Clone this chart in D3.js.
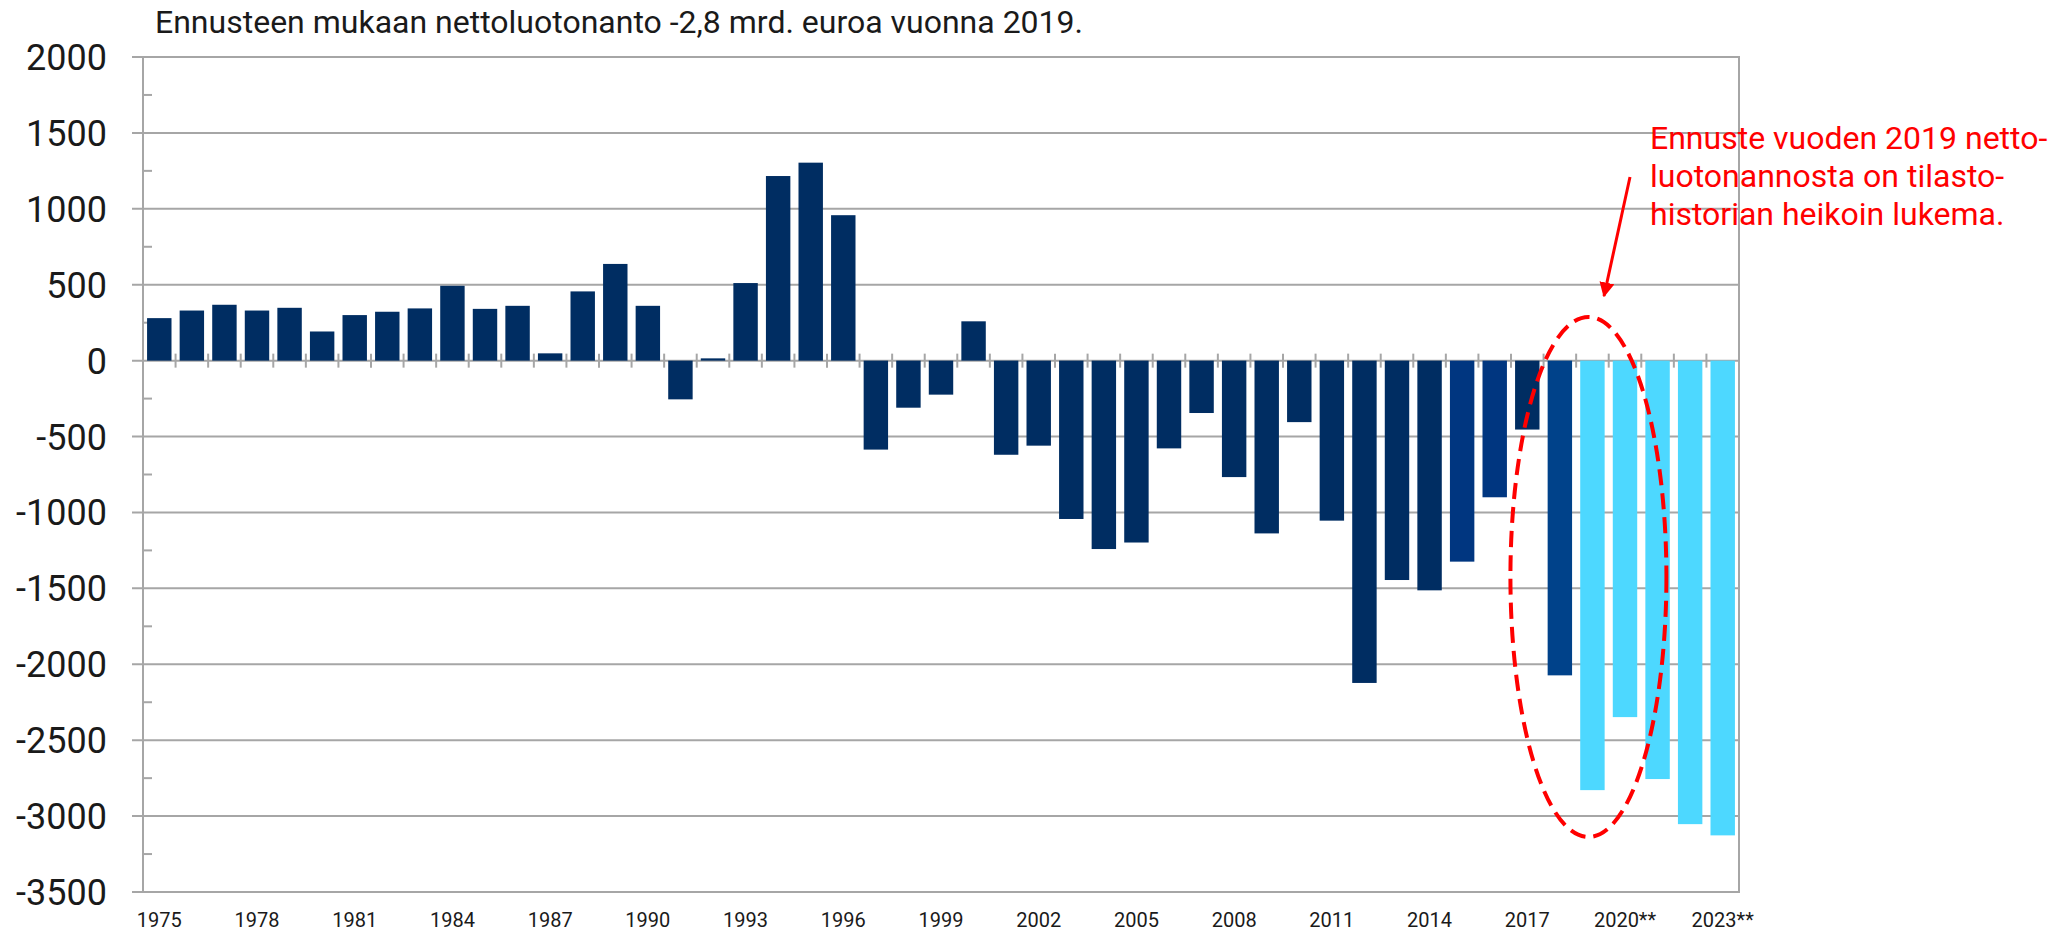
<!DOCTYPE html>
<html>
<head>
<meta charset="utf-8">
<script src="https://cdn.jsdelivr.net/npm/d3@7"></script>
<style>
  body { margin: 0; background: white; }
  svg { display: block; font-family: Roboto, "Noto Sans", sans-serif; }
</style>
</head>
<body>
<svg id="chart" width="2054" height="934"></svg>
<script>
// Vuodet ja nettoluotonanto (milj. euroa), luettu kuvasta.
const years = d3.range(1975, 2024);
const values = [
  280, 330, 368, 330, 348, 192, 300, 322, 344, 493,
  341, 361, 48, 456, 637, 361, -255, 15, 511, 1216,
  1304, 958, -586, -310, -224, 259, -620, -560, -1043, -1241,
  -1198, -578, -345, -767, -1138, -405, -1054, -2123, -1445, -1513,
  -1324, -900, -454, -2073, -2829, -2348, -2756, -3053, -3127
];
// Forecast years get the "**" suffix on the axis.
const forecastYears = [2019, 2020, 2021, 2022, 2023];
const brightYears = [2015, 2016];
const yTicks = d3.range(-3500, 2001, 500);
const titleText = "Ennusteen mukaan nettoluotonanto -2,8 mrd. euroa vuonna 2019.";
const noteLines = ["Ennuste vuoden 2019 netto-", "luotonannosta on tilasto-", "historian heikoin lukema."];

const data = years.map((y, i) => ({year: y, value: values[i]}));

const svg = d3.select("#chart");
const margin = {left: 143, right: 315, top: 57, bottom: 42};
const W = 2054, H = 934;

const x = d3.scaleBand()
  .domain(years)
  .range([margin.left, W - margin.right])
  .paddingInner(0.25)
  .paddingOuter(0.125);

const y = d3.scaleLinear()
  .domain([-3500, 2000])
  .range([H - margin.bottom, margin.top]);

const gridColor = "#a6a6a6";

// Gridlines
svg.append("g")
  .selectAll("line")
  .data(yTicks)
  .join("line")
    .attr("x1", margin.left - 11)
    .attr("x2", W - margin.right)
    .attr("y1", d => y(d))
    .attr("y2", d => y(d))
    .attr("stroke", gridColor)
    .attr("stroke-width", 2);

// minor ticks inside the left axis
svg.append("g")
  .selectAll("line")
  .data(d3.range(-3250, 2000, 500))
  .join("line")
    .attr("x1", margin.left)
    .attr("x2", margin.left + 9)
    .attr("y1", d => y(d))
    .attr("y2", d => y(d))
    .attr("stroke", gridColor)
    .attr("stroke-width", 2);

// Bars
function barColor(d){
  if(forecastYears.includes(d.year)) return "#4dd8ff";
  if(d.year == 2018) return "#00428a";
  if(brightYears.includes(d.year)) return "#003680";
  return "#002d62";
}

svg.append("g")
  .selectAll("rect")
  .data(data)
  .join("rect")
    .attr("x", d => x(d.year))
    .attr("width", x.bandwidth())
    .attr("y", d => y(Math.max(0, d.value)))
    .attr("height", d => Math.abs(y(d.value) - y(0)))
    .attr("fill", barColor);

// Category ticks on the zero line
const step = x.step();
svg.append("g")
  .selectAll("line")
  .data(years.slice(1))
  .join("line")
    .attr("x1", d => x(d) - step * x.paddingInner() / 2)
    .attr("x2", d => x(d) - step * x.paddingInner() / 2)
    .attr("y1", y(0) - 7)
    .attr("y2", y(0) + 7)
    .attr("stroke", gridColor)
    .attr("stroke-width", 2);

// Frame
svg.append("rect")
  .attr("x", margin.left)
  .attr("y", margin.top)
  .attr("width", W - margin.right - margin.left)
  .attr("height", H - margin.bottom - margin.top)
  .attr("fill", "none")
  .attr("stroke", gridColor)
  .attr("stroke-width", 2);

// Y labels
svg.append("g")
  .selectAll("text")
  .data(yTicks)
  .join("text")
    .attr("x", 107)
    .attr("y", d => y(d))
    .attr("dy", "0.36em")
    .attr("text-anchor", "end")
    .attr("font-size", 36)
    .attr("fill", "#1a1a1a")
    .text(d => d);

// X labels, every third year
svg.append("g")
  .selectAll("text")
  .data(years.filter((d, i) => i % 3 == 0))
  .join("text")
    .attr("x", d => x(d) + x.bandwidth() / 2)
    .attr("y", 927)
    .attr("text-anchor", "middle")
    .attr("font-size", 20)
    .attr("fill", "#1a1a1a")
    .text(d => forecastYears.includes(d) && d >= 2020 ? d + "**" : d);

// Title
svg.append("text")
  .attr("x", 155)
  .attr("y", 33)
  .attr("font-size", 32)
  .attr("fill", "#1a1a1a")
  .text(titleText);

// Annotation: dashed ellipse around the forecast
const cx = x(2019) + x.bandwidth() / 2 - 4;
svg.append("ellipse")
  .attr("cx", cx)
  .attr("cy", 577)
  .attr("rx", 78)
  .attr("ry", 260)
  .attr("fill", "none")
  .attr("stroke", "#ff0000")
  .attr("stroke-width", 4)
  .attr("stroke-dasharray", "16 8");

// arrow
svg.append("defs").append("marker")
  .attr("id", "head")
  .attr("viewBox", "0 0 10 10")
  .attr("refX", 9).attr("refY", 5)
  .attr("markerWidth", 5).attr("markerHeight", 5)
  .attr("orient", "auto")
  .append("path")
    .attr("d", "M0,0L10,5L0,10z")
    .attr("fill", "#ff0000");

svg.append("line")
  .attr("x1", 1630).attr("y1", 177)
  .attr("x2", 1604).attr("y2", 296)
  .attr("stroke", "#ff0000")
  .attr("stroke-width", 3)
  .attr("marker-end", "url(#head)");

svg.append("g")
  .selectAll("text")
  .data(noteLines)
  .join("text")
    .attr("x", 1650)
    .attr("y", (d, i) => 149 + i * 38)
    .attr("font-size", 32)
    .attr("fill", "#ff0000")
    .text(d => d);
</script>
</body>
</html>
